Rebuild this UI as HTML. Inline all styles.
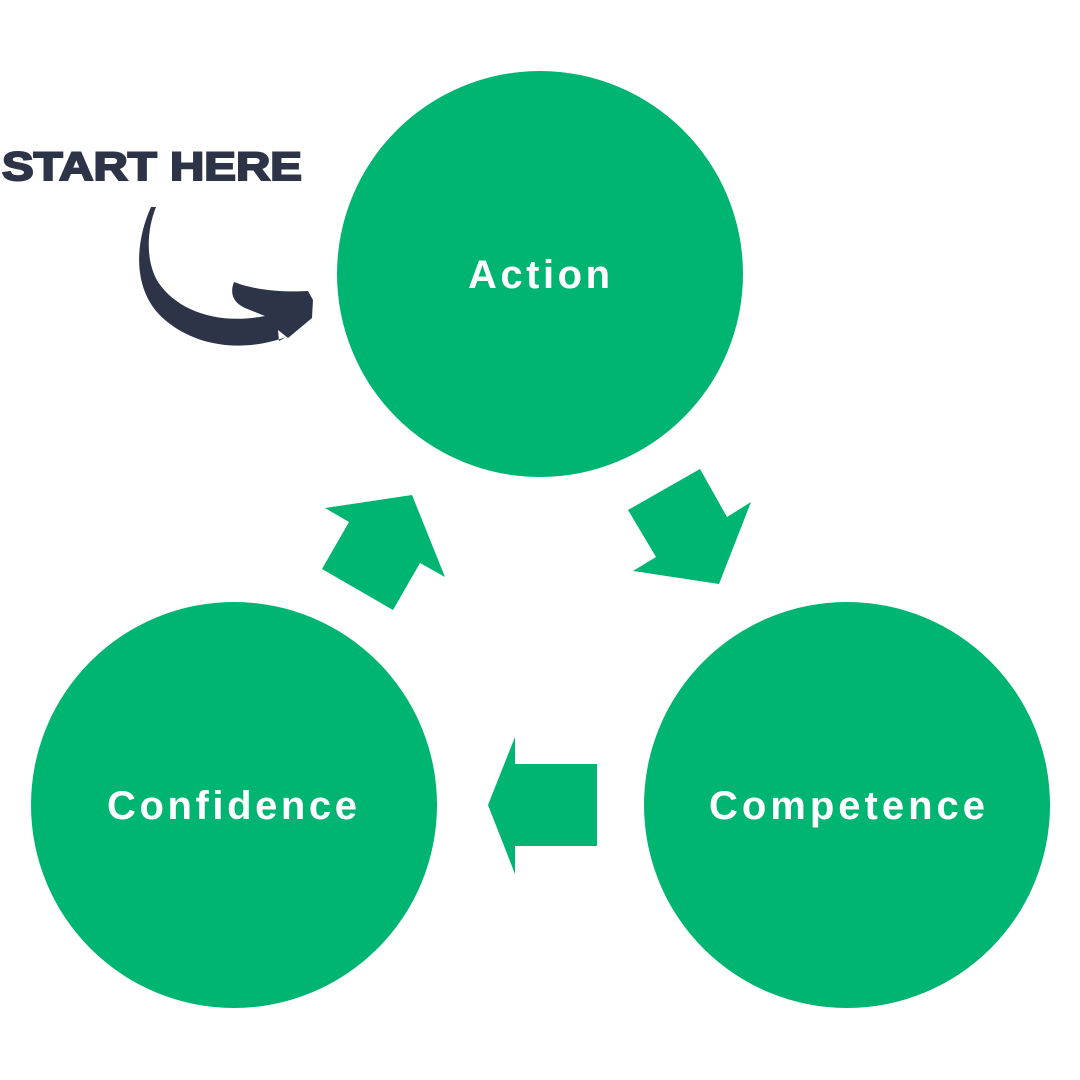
<!DOCTYPE html>
<html><head><meta charset="utf-8"><style>
html,body{margin:0;padding:0;background:#fff;}
svg{display:block}
</style></head><body>
<svg width="1080" height="1080" viewBox="0 0 1080 1080" xmlns="http://www.w3.org/2000/svg">
<g fill="#00b472">
<circle cx="540" cy="274" r="203"/>
<circle cx="234" cy="805" r="203"/>
<circle cx="847" cy="805" r="203"/>
<polygon points="488,805 515,737 515,764 597,764 597,846 515,846 515,874"/>
<polygon points="325,508 412,495 445,577 420,563 393,610 322,569 349,522"/>
<polygon points="700,469 727,517 751,502 719,584 633,571 656,557 628,510"/>
</g>
<g fill="#fff" font-family="Liberation Sans, sans-serif" font-weight="bold" font-size="40" text-anchor="middle">
<text x="539" y="288" textLength="142" lengthAdjust="spacing">Action</text>
<text x="232" y="819" textLength="250" lengthAdjust="spacing">Confidence</text>
<text x="847" y="819" textLength="276" lengthAdjust="spacing">Competence</text>
</g>
<text x="152" y="180" fill="#2d3447" stroke="#2d3447" stroke-width="2" font-family="Liberation Sans, sans-serif" font-weight="bold" font-size="40" text-anchor="middle" textLength="300" lengthAdjust="spacingAndGlyphs">START HERE</text>
<path fill="#2d3447" d="M151,207 C136,240 130,290 165,320 C198,348 245,352 286,337 L279,341 L278,330 L288,338 L312,318 L313,300 L308,291 C290,292 260,292 234,282 C230,292 232,302 245,308 L265,316 C220,325 178,312 158,282 C146,262 146,232 156,207 Z"/>
</svg>
</body></html>
